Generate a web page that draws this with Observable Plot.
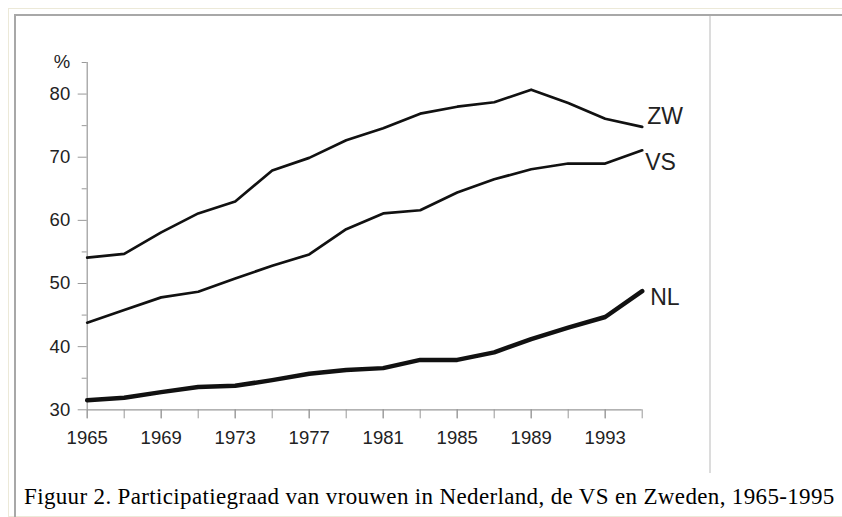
<!DOCTYPE html>
<html>
<head>
<meta charset="utf-8">
<script src="https://cdn.jsdelivr.net/npm/d3@7"></script>
<script src="https://cdn.jsdelivr.net/npm/@observablehq/plot@0.6"></script>
<style>
  html, body { margin: 0; padding: 0; background: #fff; }
  #page { position: relative; width: 842px; height: 517px; overflow: hidden; background: #fff; }
  #outer { position: absolute; left: 8px; top: 8px; width: 850px; height: 507px; border: 1.5px solid #ece9d8; border-right: none; }
  #inner { position: absolute; left: 14px; top: 14px; width: 850px; height: 520px; border-left: 2px solid #a8a8a8; border-top: 2px solid #a8a8a8; }
  #vline { position: absolute; left: 709px; top: 16px; width: 1.5px; height: 457px; background: #dcdcdc; }
  #chart { position: absolute; left: 0; top: 0; }
  #caption { position: absolute; left: 24px; top: 484.7px; font-family: "Times New Roman", "Liberation Serif", serif; font-size: 23px; letter-spacing: 0.35px; line-height: 23px; color: #000; white-space: nowrap; }
</style>
</head>
<body>
<div id="page">
  <div id="outer"></div>
  <div id="inner"></div>
  <div id="vline"></div>
  <div id="chart"></div>
  <div id="caption">Figuur 2. Participatiegraad van vrouwen in Nederland, de VS en Zweden, 1965-1995</div>
</div>
<script>
const years = [1965,1967,1969,1971,1973,1975,1977,1979,1981,1983,1985,1987,1989,1991,1993,1995];
const zw = [54.1,54.7,58.1,61.1,63.0,67.9,69.9,72.7,74.6,76.9,78.0,78.7,80.7,78.6,76.1,74.8];
const vs = [43.8,45.8,47.8,48.7,50.8,52.8,54.6,58.6,61.1,61.6,64.4,66.5,68.1,69.0,69.0,71.1];
const nl = [31.5,31.9,32.8,33.6,33.8,34.7,35.7,36.3,36.6,37.9,37.9,39.1,41.2,43.0,44.7,48.8];
const seriesNames = ["ZW","VS","NL"];
const yMajorTicks = [30,40,50,60,70,80];
const yMinorTicks = [35,45,55,65,75,85];
const xTicks = [1965,1967,1969,1971,1973,1975,1977,1979,1981,1983,1985,1987,1989,1991,1993,1995];
const xLabelTicks = [1965,1969,1973,1977,1981,1985,1989,1993];
const yDomain = [30,85];
const xDomain = [1965,1995];

const seriesValues = {ZW: zw, VS: vs, NL: nl};
const rows = seriesNames.flatMap(s => years.map((y, i) => ({series: s, year: y, value: seriesValues[s][i]})));
const lastPoints = seriesNames.map(s => ({series: s, year: years[years.length-1], value: seriesValues[s][years.length-1]}));
const labelOffset = {ZW: {dx: 5, dy: -10}, VS: {dx: 3, dy: 12}, NL: {dx: 8, dy: 7}};

const chart = Plot.plot({
  width: 842,
  height: 470,
  marginLeft: 86.7,
  marginRight: 200.3,
  marginTop: 62,
  marginBottom: 60.7,
  style: {fontFamily: "Arial, 'Liberation Sans', sans-serif", fontSize: "18.5px", background: "transparent", overflow: "visible"},
  x: {domain: xDomain},
  y: {domain: yDomain},
  marks: [
    Plot.axisY(yMajorTicks, {tickSize: 9, tickPadding: 8, stroke: "#999", fill: "#222", label: null}),
    Plot.axisY(yMinorTicks, {tickSize: 5, tickPadding: 12, stroke: "#999", fill: "#222", label: null, tickFormat: d => d === yDomain[1] ? "%" : ""}),
    Plot.axisX(xTicks, {tickSize: 9, tickFormat: () => "", stroke: "#999", label: null}),
    Plot.axisX(xLabelTicks, {tickSize: 9, tickPadding: 12, stroke: "#999", fill: "#222", label: null, tickFormat: d => String(d)}),
    Plot.ruleX([xDomain[0]], {y1: yDomain[0], y2: yDomain[1], stroke: "#999", strokeWidth: 1.2}),
    Plot.ruleY([yDomain[0]], {x1: xDomain[0], x2: xDomain[1], stroke: "#999", strokeWidth: 1.2}),
    Plot.line(rows.filter(d => d.series !== "NL"), {x: "year", y: "value", z: "series", stroke: "#111", strokeWidth: 2.7}),
    Plot.line(rows.filter(d => d.series === "NL"), {x: "year", y: "value", stroke: "#111", strokeWidth: 4.5}),
    ...seriesNames.map(s => Plot.text(lastPoints.filter(d => d.series === s), {
      x: "year", y: "value", text: "series", textAnchor: "start",
      dx: labelOffset[s].dx, dy: labelOffset[s].dy, fontSize: 23, fill: "#222"
    }))
  ]
});
document.getElementById("chart").appendChild(chart);
</script>
</body>
</html>
